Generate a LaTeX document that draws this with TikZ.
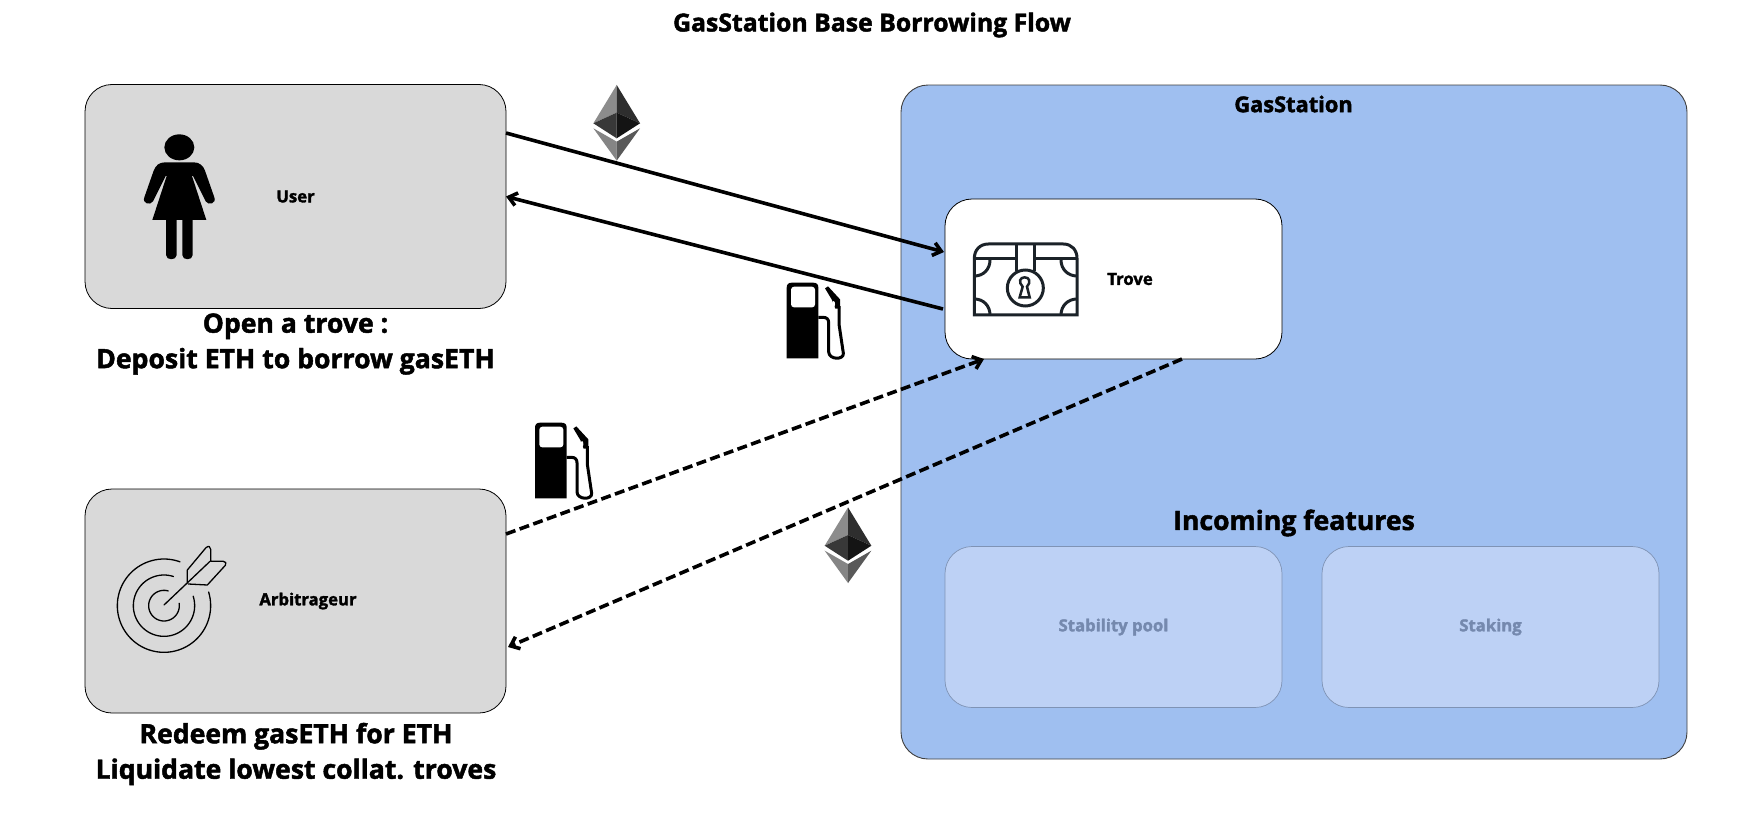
\documentclass[tikz,border=0pt]{standalone}
\usepackage{fontspec}
\setmainfont{Open Sans}[BoldFeatures={FakeBold=1.8}]
\usetikzlibrary{arrows.meta}
\definecolor{boxgray}{HTML}{D9D9D9}
\definecolor{gsblue}{HTML}{9FBFF0}
\definecolor{softblue}{HTML}{BDD1F5}
\definecolor{softline}{HTML}{7F93B5}
\definecolor{softtext}{HTML}{7589AE}
\definecolor{chestink}{HTML}{1B2228}
\tikzset{
  base/.style={rounded corners=27pt,inner sep=0pt,outer sep=0pt,font=\bfseries\fontsize{16.7}{20}\selectfont},
  graybox/.style={base,draw=black,line width=0.8pt,fill=boxgray,minimum width=421pt,minimum height=224pt},
  bluebox/.style={base,draw=black!75,line width=0.9pt,fill=gsblue,minimum width=786pt,minimum height=674pt},
  trovebox/.style={base,draw=black,line width=0.8pt,fill=white,minimum width=337pt,minimum height=160pt},
  softbox/.style={base,draw=softline,line width=0.7pt,fill=softblue,text=softtext,minimum width=337pt,minimum height=161pt},
  label15/.style={inner sep=0pt,font=\bfseries\fontsize{16.7}{20}\selectfont},
  head26/.style={inner sep=0pt,align=center,font=\bfseries\fontsize{26.6}{35.5}\selectfont},
  flow/.style={line width=3.6pt,-{Straight Barb[length=8pt,width=13pt,line width=3.6pt]}},
  flowdash/.style={flow,dash pattern=on 10pt off 4.5pt},
  ethicon/.pic={
    \begin{scope}[x=1/3pt,y=-1/3pt]
      \fill[black!45] (0,-115) -- (-70,0) -- (0,-32) -- cycle;
      \fill[black!82] (0,-115) -- (70,0) -- (0,-32) -- cycle;
      \fill[black!78] (-70,0) -- (0,-32) -- (0,45) -- cycle;
      \fill[black!92] (70,0) -- (0,-32) -- (0,45) -- cycle;
      \fill[black!48] (-70,15) -- (0,55) -- (0,112) -- cycle;
      \fill[black!65] (70,15) -- (0,55) -- (0,112) -- cycle;
    \end{scope}},
  pumpicon/.pic={
    \begin{scope}[x=1/3pt,y=-1/3pt]
      \fill[black] (0,227) -- (0,15) .. controls (0,5) and (5,0) .. (15,0) -- (80,0) .. controls (90,0) and (95,5) .. (95,15) -- (95,227) -- cycle;
      \fill[white,rounded corners=3pt] (13,12) rectangle (85,74);
      \draw[black,line width=3pt,line join=round]
        (95,104) -- (110,104) .. controls (120,104) and (126,110) .. (126,120)
        -- (126,208) .. controls (127,232) and (172,232) .. (170,212)
        -- (157,125) -- (157,70);
      \fill[black] (115,17) -- (124,11) -- (160,50) -- (160,78) -- (146,78) -- (136,52) -- cycle;
      \fill[white] (141,64) ellipse[x radius=4,y radius=9];
    \end{scope}}
}
\begin{document}
\begin{tikzpicture}[x=1pt,y=-1pt]
\useasboundingbox (0,0) rectangle (1744,816);
\fill[white] (0,0) rectangle (1744,816);

\node[head26,font=\bfseries\fontsize{24.8}{30}\selectfont] (title) at (872,25) {GasStation Base Borrowing Flow};

\node[bluebox] (gas) at (1294,422) {};
\node[label15,font=\bfseries\fontsize{21.8}{26}\selectfont] (gaslabel) at (1293.5,104) {GasStation};
\node[trovebox] (trove) at (1113.5,279) {};
\node[label15] (trovelabel) at (1130,279) {Trove};

\node[graybox] (user) at (295.5,196.5) {User};
\node[graybox] (arb) at (295.5,601) {};
\node[label15] (arblabel) at (308,601) {Arbitrageur};

\node[head26] (usertext) at (295.5,344) {Open a trove :\\Deposit ETH to borrow gasETH};
\node[head26] (arbtext) at (296,754) {Redeem gasETH for ETH\\Liquidate lowest collat. troves};
\node[head26] (incoming) at (1294,523) {Incoming features};

\node[softbox] (stab) at (1113.5,627) {Stability pool};
\node[softbox] (stak) at (1490.5,627) {Staking};

% person
\begin{scope}[shift={(60,60)},x=1/3pt,y=-1/3pt]
  \fill[black] (358,262) ellipse[x radius=45,y radius=39];
  \fill[black] (277,480) -- (320,348) -- (317,348) -- (279,424)
     .. controls (270,438) and (246,430) .. (253,412)
     -- (281,332) .. controls (287,316) and (298,307) .. (315,307)
     -- (401,307) .. controls (418,307) and (429,316) .. (435,332)
     -- (463,412) .. controls (470,430) and (446,438) .. (437,424)
     -- (399,348) -- (396,348) -- (439,480) -- (398,480) -- (398,585)
     .. controls (398,602) and (367,602) .. (367,585) -- (367,480) -- (350,480) -- (350,585)
     .. controls (350,602) and (318,602) .. (318,585) -- (318,480) -- cycle;
\end{scope}

% target
\begin{scope}[shift={(60,400)},x=1/3pt,y=-1/3pt,black,line width=1.3pt,line cap=round,line join=round]
  \draw plot[domain=70:377,samples=80,smooth] ({312+140*cos(\x)},{617-140*sin(\x)});
  \draw plot[domain=72:378,samples=70,smooth] ({312+92*cos(\x)},{617-92*sin(\x)});
  \draw plot[domain=74:369,samples=50,smooth] ({312+46*cos(\x)},{617-46*sin(\x)});
  \draw (312,615) -- (450,484);
  \draw (382,548) -- (382,510) -- (438,443) .. controls (446,436) and (452,440) .. (452,448)
        -- (452,484) -- (490,484) .. controls (498,484) and (500,490) .. (496,496)
        -- (442,555) -- (385,552);
\end{scope}

% chest
\begin{scope}[shift={(880,60)},x=1/3pt,y=-1/3pt,chestink,line width=3pt,line join=miter]
  \draw (283,765) -- (283,595) .. controls (283,570) and (300,552) .. (325,552) -- (550,552)
        .. controls (575,552) and (591,570) .. (591,595) -- (591,765) -- cycle;
  \draw (283,597) -- (410,597) (463,597) -- (591,597);
  \draw (410,552) -- (410,632) (463,552) -- (463,632);
  \draw (436,684) circle[radius=54];
  \draw (283,648) .. controls (310,648) and (330,628) .. (330,600);
  \draw (591,648) .. controls (564,648) and (543,628) .. (543,600);
  \draw (283,717) .. controls (310,717) and (330,737) .. (330,765);
  \draw (591,717) .. controls (564,717) and (543,737) .. (543,765);
  \draw[line width=2.5pt] (428,680) .. controls (414,666) and (420,652) .. (434,652)
        .. controls (448,652) and (454,666) .. (441,680) -- (449,712) -- (419,712) -- cycle;
\end{scope}

\pic (eth1) at (616.7,123.3) {ethicon};
\pic (eth2) at (848,545.7) {ethicon};
\pic (pump1) at (786.7,282.7) {pumpicon};
\pic (pump2) at (535,422.7) {pumpicon};

% connectors
\draw[flow] ([yshift=63.5pt]user.east) -- ([yshift=27pt,xshift=-1pt]trove.west);
\draw[flow] ([yshift=-30pt,xshift=-2pt]trove.west) -- (user.east);
\draw[flowdash] ([yshift=67pt]arb.east) -- ([xshift=39pt]trove.south west);
\draw[flowdash] ([xshift=237pt]trove.south west) -- ([yshift=-46pt,xshift=2pt]arb.east);
\end{tikzpicture}
\end{document}
